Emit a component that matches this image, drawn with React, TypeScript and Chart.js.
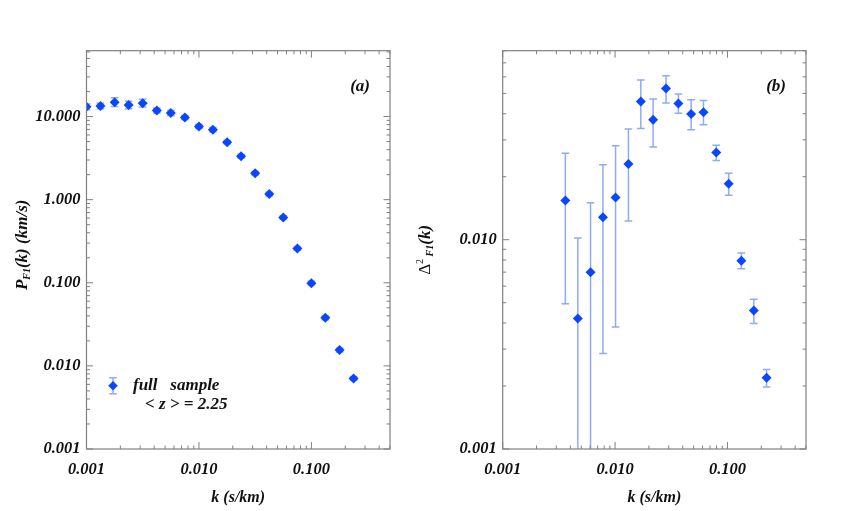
import React, { useEffect, useRef } from "react";
import { Chart, registerables } from "chart.js";
Chart.register(...registerables);

// ---------- data, panel (a) ----------
const kA = [0.001, 0.00133, 0.00178, 0.00237, 0.00316, 0.00422, 0.00562, 0.0075, 0.01, 0.0133, 0.0178, 0.0237, 0.0316, 0.0422, 0.0562, 0.075, 0.1, 0.133, 0.178, 0.237];
const pA = [13.1, 13.4, 14.9, 13.8, 14.5, 11.8, 11.0, 9.73, 7.58, 6.92, 4.92, 3.34, 2.08, 1.17, 0.61, 0.258, 0.099, 0.0379, 0.0155, 0.00705];
const pALo = [12.1, 12.4, 13.2, 12.4, 13.0, 11.0, 10.3, 9.2, 7.2, 6.5, 4.7, 3.18, 1.98, 1.11, 0.58, 0.246, 0.094, 0.036, 0.0147, 0.0067];
const pAHi = [14.2, 14.5, 16.8, 15.3, 16.2, 12.6, 11.8, 10.3, 8.0, 7.4, 5.15, 3.5, 2.18, 1.23, 0.64, 0.27, 0.104, 0.0399, 0.0163, 0.0074];

// ---------- data, panel (b) ----------
const kB = [0.00361, 0.00466, 0.00605, 0.0078, 0.0101, 0.01315, 0.01695, 0.0218, 0.0284, 0.0366, 0.0475, 0.0612, 0.0795, 0.1026, 0.133, 0.1717, 0.2229];
const dB = [0.0154, 0.0042, 0.007, 0.0128, 0.0159, 0.023, 0.0458, 0.0374, 0.0528, 0.0448, 0.0399, 0.0406, 0.0261, 0.0185, 0.00794, 0.00459, 0.00219];
const dBLo = [0.00495, 0.0004, 0.0004, 0.00286, 0.00383, 0.0123, 0.034, 0.0277, 0.045, 0.0402, 0.0335, 0.0354, 0.0239, 0.0163, 0.00727, 0.00398, 0.00198];
const dBHi = [0.0259, 0.0102, 0.015, 0.0228, 0.0281, 0.0338, 0.058, 0.047, 0.0608, 0.0497, 0.0466, 0.0462, 0.0283, 0.0208, 0.00863, 0.00519, 0.0024];

// ---------- axes ----------
const xRange = [0.001, 0.5];
const yRangeA = [0.001, 62];
const yRangeB = [0.001, 0.08];
const xTickValues = [0.001, 0.01, 0.1];
const yTickValuesA = [0.001, 0.01, 0.1, 1, 10];
const yTickValuesB = [0.001, 0.01];
const minorMultipliers = [2, 3, 4, 5, 6, 7, 8, 9];

const xTitle = "k (s/km)";
const legendLine1 = "full   sample";
const legendLine2 = "< z > = 2.25";

const SERIF = "'Liberation Serif', 'Times New Roman', serif";
const MARK = "#0a46ff";
const ERR = "rgba(95,135,242,0.7)";
const FRAME = "#808080";

type Piece = { text: string; font: string; dy: number };

function drawRotTitle(ctx: CanvasRenderingContext2D, pieces: Piece[], cx: number, cy: number) {
  ctx.save();
  ctx.translate(cx, cy);
  ctx.rotate(-Math.PI / 2);
  ctx.fillStyle = "#111";
  ctx.textBaseline = "middle";
  ctx.textAlign = "left";
  let total = 0;
  const widths = pieces.map((p) => {
    ctx.font = p.font;
    const w = ctx.measureText(p.text).width;
    total += w;
    return w;
  });
  let x = -total / 2;
  pieces.forEach((p, i) => {
    ctx.font = p.font;
    ctx.fillText(p.text, x, p.dy);
    x += widths[i];
  });
  ctx.restore();
}

function logTicks(min: number, max: number) {
  const out: { v: number; major: boolean }[] = [];
  for (let d = Math.floor(Math.log10(min)); d <= Math.ceil(Math.log10(max)); d++) {
    const base = Math.pow(10, d);
    [1, ...minorMultipliers].forEach((m) => {
      const v = m * base;
      if (v >= min * 0.999 && v <= max * 1.001) out.push({ v, major: m === 1 });
    });
  }
  return out;
}

type PanelCfg = {
  xs: number[];
  ys: number[];
  lo: number[];
  hi: number[];
  yRange: number[];
  yTicks: number[];
  yAxisWidth: number;
  padRight: number;
  yTitle: Piece[];
  yTitleX: number;
  yTitleShift: number;
  label: string;
  legend: boolean;
};

function makeChart(canvas: HTMLCanvasElement, cfg: PanelCfg) {
  const plugin = {
    id: "panelDecor",
    beforeDatasetsDraw(chart: any) {
      const ctx = chart.ctx as CanvasRenderingContext2D;
      const a = chart.chartArea;
      const xs = chart.scales.x;
      const ys = chart.scales.y;
      ctx.save();
      ctx.beginPath();
      ctx.rect(a.left, a.top, a.right - a.left, a.bottom - a.top);
      ctx.clip();
      ctx.strokeStyle = ERR;
      ctx.lineWidth = 1.5;
      cfg.xs.forEach((k, i) => {
        const px = xs.getPixelForValue(k);
        const pl = ys.getPixelForValue(cfg.lo[i]);
        const ph = ys.getPixelForValue(cfg.hi[i]);
        ctx.beginPath();
        ctx.moveTo(px, pl);
        ctx.lineTo(px, ph);
        ctx.moveTo(px - 3.8, pl);
        ctx.lineTo(px + 3.8, pl);
        ctx.moveTo(px - 3.8, ph);
        ctx.lineTo(px + 3.8, ph);
        ctx.stroke();
      });
      ctx.restore();
    },
    afterDraw(chart: any) {
      const ctx = chart.ctx as CanvasRenderingContext2D;
      const a = chart.chartArea;
      const xs = chart.scales.x;
      const ys = chart.scales.y;
      ctx.save();
      // frame
      ctx.strokeStyle = FRAME;
      ctx.lineWidth = 1.2;
      ctx.strokeRect(a.left, a.top, a.right - a.left, a.bottom - a.top);
      // inward ticks on all four sides
      ctx.lineWidth = 1;
      ctx.beginPath();
      logTicks(xRange[0], xRange[1]).forEach((t) => {
        const px = xs.getPixelForValue(t.v);
        const len = t.major ? 7 : 3.5;
        ctx.moveTo(px, a.bottom);
        ctx.lineTo(px, a.bottom - len);
        ctx.moveTo(px, a.top);
        ctx.lineTo(px, a.top + len);
      });
      logTicks(cfg.yRange[0], cfg.yRange[1]).forEach((t) => {
        const py = ys.getPixelForValue(t.v);
        const len = t.major ? 6.5 : 3.5;
        ctx.moveTo(a.left, py);
        ctx.lineTo(a.left + len, py);
        ctx.moveTo(a.right, py);
        ctx.lineTo(a.right - len, py);
      });
      ctx.stroke();

      // x title
      ctx.fillStyle = "#111";
      ctx.font = `italic bold 16px ${SERIF}`;
      ctx.textAlign = "center";
      ctx.textBaseline = "middle";
      ctx.fillText(xTitle, (a.left + a.right) / 2, 498);

      // panel label
      ctx.font = `italic bold 17px ${SERIF}`;
      ctx.textAlign = "right";
      ctx.fillText(cfg.label, a.right - 20, a.top + 36);

      // legend
      if (cfg.legend) {
        const mx = a.left + 26.5;
        const my = a.bottom - 63.3;
        ctx.strokeStyle = ERR;
        ctx.lineWidth = 1.5;
        ctx.beginPath();
        ctx.moveTo(mx, my - 8);
        ctx.lineTo(mx, my + 8);
        ctx.moveTo(mx - 3.8, my - 8);
        ctx.lineTo(mx + 3.8, my - 8);
        ctx.moveTo(mx - 3.8, my + 8);
        ctx.lineTo(mx + 3.8, my + 8);
        ctx.stroke();
        ctx.fillStyle = MARK;
        ctx.beginPath();
        ctx.moveTo(mx, my - 4.8);
        ctx.lineTo(mx + 4.8, my);
        ctx.lineTo(mx, my + 4.8);
        ctx.lineTo(mx - 4.8, my);
        ctx.closePath();
        ctx.fill();
        ctx.fillStyle = "#111";
        ctx.font = `italic bold 17px ${SERIF}`;
        ctx.textAlign = "left";
        ctx.fillText(legendLine1, a.left + 46.5, my);
        ctx.fillText(legendLine2, a.left + 58.5, my + 19);
      }

      // y title
      drawRotTitle(ctx, cfg.yTitle, cfg.yTitleX, (a.top + a.bottom) / 2 + cfg.yTitleShift);
      ctx.restore();
    },
  };

  return new Chart(canvas, {
    type: "scatter",
    data: {
      datasets: [
        {
          data: cfg.xs.map((k, i) => ({ x: k, y: cfg.ys[i] })),
          pointStyle: "rectRot",
          pointRadius: 5,
          pointBackgroundColor: MARK,
          pointBorderWidth: 0,
          showLine: false,
        },
      ],
    },
    options: {
      responsive: false,
      animation: false,
      devicePixelRatio: 1,
      layout: { padding: { left: 0, top: 50.7, right: cfg.padRight, bottom: 0 } },
      plugins: { legend: { display: false }, tooltip: { enabled: false } },
      scales: {
        x: {
          type: "logarithmic",
          min: xRange[0],
          max: xRange[1],
          grid: { display: false },
          border: { display: false },
          afterBuildTicks: (s: any) => {
            s.ticks = xTickValues.map((v) => ({ value: v }));
          },
          afterFit: (s: any) => {
            s.height = 62;
          },
          ticks: {
            autoSkip: false,
            maxRotation: 0,
            padding: 3,
            color: "#111",
            font: { family: SERIF, size: 16.5, style: "italic", weight: "bold" },
            callback: (v: any) => Number(v).toFixed(3),
          },
        },
        y: {
          type: "logarithmic",
          min: cfg.yRange[0],
          max: cfg.yRange[1],
          grid: { display: false },
          border: { display: false },
          afterBuildTicks: (s: any) => {
            s.ticks = cfg.yTicks.map((v) => ({ value: v }));
          },
          afterFit: (s: any) => {
            s.width = cfg.yAxisWidth;
          },
          ticks: {
            autoSkip: false,
            padding: -2,
            color: "#111",
            font: { family: SERIF, size: 16.5, style: "italic", weight: "bold" },
            callback: (v: any) => Number(v).toFixed(3),
          },
        },
      },
    } as any,
    plugins: [plugin],
  });
}

export default function App() {
  const leftRef = useRef<HTMLCanvasElement>(null);
  const rightRef = useRef<HTMLCanvasElement>(null);

  useEffect(() => {
    const big = `italic bold 17px ${SERIF}`;
    const small = `italic bold 10px ${SERIF}`;
    const c1 = makeChart(leftRef.current!, {
      xs: kA,
      ys: pA,
      lo: pALo,
      hi: pAHi,
      yRange: yRangeA,
      yTicks: yTickValuesA,
      yAxisWidth: 86.5,
      padRight: 20,
      yTitle: [
        { text: "P", font: big, dy: 0 },
        { text: "F1", font: small, dy: 4 },
        { text: "(k) (km/s)", font: big, dy: 0 },
      ],
      yTitleX: 23,
      yTitleShift: -5,
      label: "(a)",
      legend: true,
    });
    const c2 = makeChart(rightRef.current!, {
      xs: kB,
      ys: dB,
      lo: dBLo,
      hi: dBHi,
      yRange: yRangeB,
      yTicks: yTickValuesB,
      yAxisWidth: 92.7,
      padRight: 60,
      yTitle: [
        { text: "Δ", font: `17px ${SERIF}`, dy: 0 },
        { text: "2", font: `10px ${SERIF}`, dy: -6 },
        { text: " F1", font: small, dy: 4 },
        { text: "(k)", font: big, dy: 0 },
      ],
      yTitleX: 16,
      yTitleShift: 0,
      label: "(b)",
      legend: false,
    });
    return () => {
      c1.destroy();
      c2.destroy();
    };
  }, []);

  return (
    <div style={{ position: "absolute", left: 0, top: 0, width: 866, height: 511, background: "#fff" }}>
      <canvas ref={leftRef} width={410} height={511} style={{ position: "absolute", left: 0, top: 0 }} />
      <canvas ref={rightRef} width={456} height={511} style={{ position: "absolute", left: 410, top: 0 }} />
    </div>
  );
}
